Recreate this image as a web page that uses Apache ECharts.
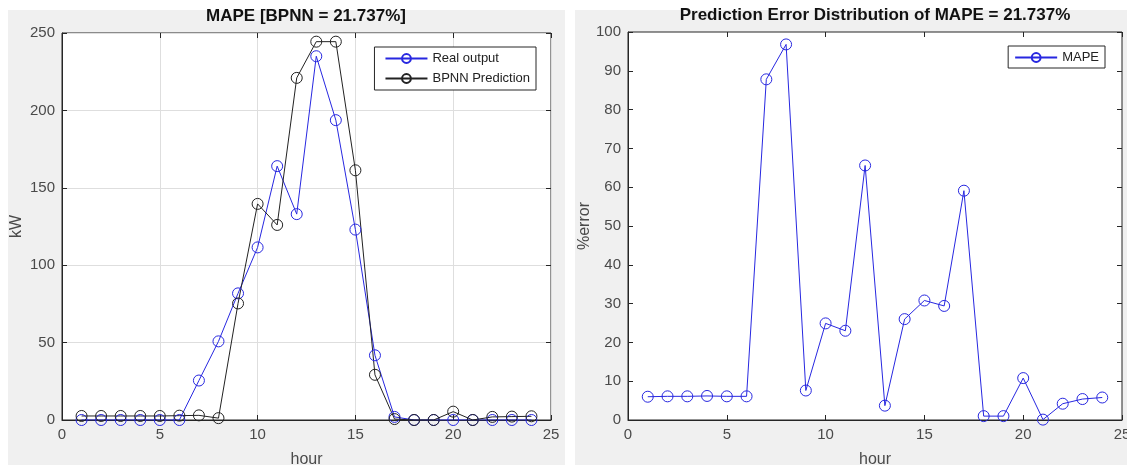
<!DOCTYPE html>
<html lang="en">
<head>
<meta charset="UTF-8">
<title>MAPE BPNN</title>
<script src="https://cdn.jsdelivr.net/npm/echarts@6/dist/echarts.min.js"></script>
<style>
    body { margin: 0; background: #fff; width: 1127px; height: 465px; position: relative; overflow: hidden; }
    .panel { position: absolute; background: #f0f0f0; }
    .chart { position: absolute; top: 0; height: 465px; }
    #bgLeft { left: 8px; top: 10px; width: 557px; height: 455px; }
    #bgRight { left: 575px; top: 10px; width: 552px; height: 455px; }
    #left { left: 0; width: 570px; }
    #right { left: 570px; width: 557px; }
</style>
</head>
<body>
<div id="bgLeft" class="panel"></div>
<div id="bgRight" class="panel"></div>
<div id="left" class="chart"></div>
<div id="right" class="chart"></div>
<script>
    // datos
    const hours = [1, 2, 3, 4, 5, 6, 7, 8, 9, 10, 11, 12, 13, 14, 15, 16, 17, 18, 19, 20, 21, 22, 23, 24];
    const realOutput = [0, 0, 0, 0, 0, 0, 25.5, 50.8, 81.8, 111.5, 164, 133, 235, 193.7, 123, 41.8, 2, 0, 0, 0, 0, 0, 0, 0];
    const bpnnPrediction = [2.6, 2.6, 2.6, 2.6, 2.6, 2.8, 3, 1.2, 75.3, 139.6, 126, 221, 244.4, 244.4, 161.3, 29.2, 0.6, 0, 0, 5.4, 0, 2, 2.2, 2.4];
    const mapeError = [6.0, 6.1, 6.1, 6.2, 6.1, 6.1, 87.8, 96.8, 7.6, 24.9, 23, 65.6, 3.7, 26, 30.8, 29.4, 59.1, 1.0, 1.0, 10.8, 0.1, 4.2, 5.4, 5.8];

    const pairs = (ys) => hours.map((h, i) => [h, ys[i]]);

    const font = "'Liberation Sans', Arial, sans-serif";
    const axisColor = '#262626';
    const labelStyle = { color: '#4a4a4a', fontSize: 15, fontFamily: font };
    const nameStyle = { color: '#4a4a4a', fontSize: 16, fontFamily: font };
    const titleStyle = { fontSize: 17, fontWeight: 'bold', color: '#111', fontFamily: font };

    function axisPair(min, max, interval, grid, pos) {
        return [
            {
                type: 'value', min: min, max: max, interval: interval, position: pos[0],
                nameMoveOverlap: false,
                axisLine: { show: true, onZero: false, lineStyle: { color: axisColor } },
                axisTick: { show: true, inside: true, length: 5, lineStyle: { color: axisColor } },
                axisLabel: Object.assign({ margin: 7 }, labelStyle),
                splitLine: { show: grid, lineStyle: { color: '#dedede', width: 1 } }
            },
            {
                type: 'value', min: min, max: max, interval: interval, position: pos[1],
                axisLine: { show: false, onZero: false },
                axisTick: { show: true, inside: true, length: 5, lineStyle: { color: axisColor } },
                axisLabel: { show: false },
                splitLine: { show: false }
            }
        ];
    }

    function lineSeries(name, data, color) {
        return {
            name: name,
            type: 'line',
            data: data,
            symbol: 'circle',
            symbolSize: 11,
            showSymbol: true,
            lineStyle: { color: color, width: 1 },
            itemStyle: { color: 'transparent', borderColor: color, borderWidth: 1 },
            emphasis: { disabled: true },
            animation: false
        };
    }

    // grafica izquierda
    var leftChart = echarts.init(document.getElementById('left'));
    var xL = axisPair(0, 25, 5, true, ['bottom', 'top']);
    var yL = axisPair(0, 250, 50, true, ['left', 'right']);
    xL[0].name = 'hour';
    xL[0].nameLocation = 'middle';
    xL[0].nameGap = 32;
    xL[0].nameTextStyle = nameStyle;
    yL[0].name = 'kW';
    yL[0].nameLocation = 'middle';
    yL[0].nameGap = 37;
    yL[0].nameTextStyle = nameStyle;

    leftChart.setOption({
        animation: false,
        title: {
            text: 'MAPE [BPNN = 21.737%]',
            left: 306, top: 8, padding: 0, textAlign: 'center',
            textStyle: titleStyle
        },
        legend: {
            orient: 'vertical',
            right: 34, top: 47,
            padding: [5, 6, 5, 10],
            itemGap: 7,
            itemWidth: 42,
            itemHeight: 11,
            backgroundColor: '#fff',
            borderColor: axisColor,
            borderWidth: 1,
            borderRadius: 0,
            textStyle: { color: '#222', fontSize: 13, fontFamily: font },
            data: ['Real output', 'BPNN Prediction']
        },
        grid: {
            left: 62, right: 19, top: 33, bottom: 45,
            containLabel: false, outerBoundsMode: 'none',
            show: true, backgroundColor: '#fff', borderColor: axisColor, borderWidth: 1
        },
        xAxis: xL,
        yAxis: yL,
        series: [
            lineSeries('Real output', pairs(realOutput), '#2727e0'),
            lineSeries('BPNN Prediction', pairs(bpnnPrediction), '#222222')
        ]
    });

    // grafica derecha
    var rightChart = echarts.init(document.getElementById('right'));
    var xR = axisPair(0, 25, 5, false, ['bottom', 'top']);
    var yR = axisPair(0, 100, 10, false, ['left', 'right']);
    xR[0].name = 'hour';
    xR[0].nameLocation = 'middle';
    xR[0].nameGap = 32;
    xR[0].nameTextStyle = nameStyle;
    yR[0].name = '%error';
    yR[0].nameLocation = 'middle';
    yR[0].nameGap = 35;
    yR[0].nameTextStyle = nameStyle;

    rightChart.setOption({
        animation: false,
        title: {
            text: 'Prediction Error Distribution of MAPE = 21.737%',
            left: 305, top: 7, padding: 0, textAlign: 'center',
            textStyle: titleStyle
        },
        legend: {
            orient: 'vertical',
            right: 22, top: 46,
            padding: [5, 6, 4, 6],
            itemWidth: 42,
            itemHeight: 11,
            backgroundColor: '#fff',
            borderColor: axisColor,
            borderWidth: 1,
            borderRadius: 0,
            textStyle: { color: '#222', fontSize: 13, fontFamily: font },
            data: ['MAPE']
        },
        grid: {
            left: 58, right: 5, top: 32, bottom: 45,
            containLabel: false, outerBoundsMode: 'none',
            show: true, backgroundColor: '#fff', borderColor: axisColor, borderWidth: 1
        },
        xAxis: xR,
        yAxis: yR,
        series: [
            lineSeries('MAPE', pairs(mapeError), '#2727e0')
        ]
    });

    window.addEventListener('resize', function () {
        leftChart.resize();
        rightChart.resize();
    });
</script>
</body>
</html>
